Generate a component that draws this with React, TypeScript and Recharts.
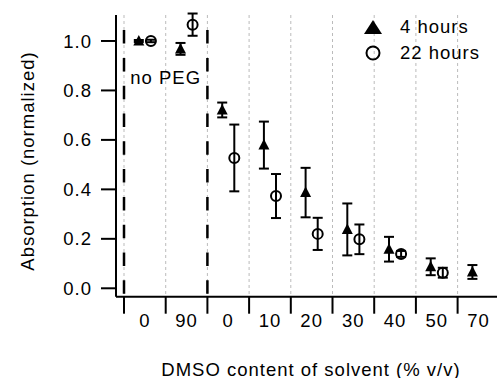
import React from "react";
import {
  ComposedChart,
  Scatter,
  ErrorBar,
  XAxis,
  YAxis,
  CartesianGrid,
  ReferenceLine,
  ReferenceArea,
  Legend,
} from "recharts";

// DMSO content per group (first two are the "no PEG" controls)
const categories = ["0", "90", "0", "10", "20", "30", "40", "50", "70"];

const hours4 = [1.0, 0.968, 0.721, 0.579, 0.387, 0.238, 0.158, 0.087, 0.066];
const hours4Err = [0.004, 0.024, 0.03, 0.095, 0.1, 0.105, 0.05, 0.034, 0.028];

const hours22 = [1.0, 1.066, 0.527, 0.373, 0.22, 0.198, 0.139, 0.063, null];
const hours22Err = [0.005, 0.045, 0.135, 0.089, 0.065, 0.06, 0.012, 0.02, null];

const yTicks = [0, 0.2, 0.4, 0.6, 0.8, 1.0];
const xTicks = [0, 1, 2, 3, 4, 5, 6, 7, 8, 9];

const W = 500;
const H = 378;
const LEFT = 116;
const RIGHT_MARGIN = 0.7;
const X_MIN = -0.192;
const X_MAX = 9;
const BAND = (W - LEFT - RIGHT_MARGIN) / (X_MAX - X_MIN);
const OFF = 0.145; // shift of each series inside its group

const FONT = "'Liberation Sans', Arial, Helvetica, sans-serif";
const FS = 18.5;
const LS = 1;

const data4 = hours4.map((v, i) => ({ x: i + 0.5 - OFF, y: v, err: hours4Err[i] }));
const data22 = hours22
  .map((v, i) => ({ x: i + 0.5 + OFF, y: v, err: hours22Err[i] }))
  .filter((d) => d.y !== null);

const Triangle = ({ cx, cy }: any) => (
  <polygon
    points={`${cx},${cy - 6} ${cx - 5.5},${cy + 4.5} ${cx + 5.5},${cy + 4.5}`}
    fill="#000"
  />
);

const Circle = ({ cx, cy }: any) => (
  <circle cx={cx} cy={cy} r={5} fill="none" stroke="#000" strokeWidth={2} />
);

const XTick = ({ x, y, payload }: any) => {
  const i = payload.value;
  if (i >= categories.length) return null;
  return (
    <text
      x={x + BAND / 2}
      y={y}
      dy="0.71em"
      textAnchor="middle"
      fill="#000"
      fontSize={FS}
      fontFamily={FONT}
      letterSpacing={LS}
    >
      {categories[i]}
    </text>
  );
};

const LegendBox = () => (
  <div style={{ fontFamily: FONT, fontSize: FS, letterSpacing: LS, color: "#000" }}>
    <div style={{ display: "flex", alignItems: "center", height: 26 }}>
      <svg width={20} height={20} style={{ marginRight: 17 }}>
        <polygon points="10,3 1,17 19,17" fill="#000" />
      </svg>
      4 hours
    </div>
    <div style={{ display: "flex", alignItems: "center", height: 26 }}>
      <svg width={20} height={20} style={{ marginRight: 17 }}>
        <circle cx={10} cy={10} r={6.5} fill="none" stroke="#000" strokeWidth={2} />
      </svg>
      22 hours
    </div>
  </div>
);

export default function App() {
  return (
    <div
      style={{
        position: "absolute",
        left: 0,
        top: 0,
        width: 497,
        height: 378,
        overflow: "hidden",
        background: "#fff",
      }}
    >
      <ComposedChart
        width={W}
        height={H}
        margin={{ top: 15, right: RIGHT_MARGIN, bottom: 0, left: 0 }}
      >
        <CartesianGrid
          horizontal={false}
          stroke="#bbb"
          strokeDasharray="3 3"
        />
        <XAxis
          type="number"
          dataKey="x"
          domain={[X_MIN, X_MAX]}
          allowDataOverflow
          ticks={xTicks}
          interval={0}
          height={81.3}
          tickSize={17}
          tickMargin={0}
          axisLine={{ stroke: "#000", strokeWidth: 2 }}
          tickLine={{ stroke: "#000", strokeWidth: 2 }}
          tick={<XTick />}
          label={{
            content: () => (
              <text
                x={311}
                y={369}
                dominantBaseline="central"
                textAnchor="middle"
                fill="#000"
                fontSize={FS}
                fontFamily={FONT}
                letterSpacing={LS}
              >
                DMSO content of solvent (% v/v)
              </text>
            ),
          }}
        />
        <YAxis
          type="number"
          dataKey="y"
          domain={[-0.034, 1.105]}
          allowDataOverflow
          ticks={yTicks}
          width={LEFT}
          tickSize={15}
          tickMargin={9}
          tickFormatter={(v: number) => v.toFixed(1)}
          axisLine={{ stroke: "#000", strokeWidth: 2 }}
          tickLine={{ stroke: "#000", strokeWidth: 2 }}
          tick={{ fill: "#000", fontSize: FS, fontFamily: FONT, letterSpacing: LS }}
          label={{
            content: () => (
              <text
                x={27}
                y={161}
                transform="rotate(-90 27 161)"
                dominantBaseline="central"
                textAnchor="middle"
                fill="#000"
                fontSize={FS}
                fontFamily={FONT}
                letterSpacing={LS}
              >
                Absorption (normalized)
              </text>
            ),
          }}
        />
        <ReferenceArea
          x1={0}
          x2={2}
          y1={0.804}
          y2={0.904}
          fill="none"
          stroke="none"
          label={{
            value: "no PEG",
            position: "center",
            fill: "#000",
            fontSize: FS,
            fontFamily: FONT,
            letterSpacing: LS,
          }}
        />
        <ReferenceLine
          segment={[{ x: 0, y: 1.044 }, { x: 0, y: -0.034 }]}
          stroke="#000"
          strokeWidth={2.5}
          strokeDasharray="13.5 14.3"
        />
        <ReferenceLine
          segment={[{ x: 2, y: 1.044 }, { x: 2, y: -0.034 }]}
          stroke="#000"
          strokeWidth={2.5}
          strokeDasharray="13.5 14.3"
        />
        <Scatter name="4 hours" data={data4} shape={<Triangle />} isAnimationActive={false}>
          <ErrorBar dataKey="err" direction="y" width={5} stroke="#000" strokeWidth={2} />
        </Scatter>
        <Scatter name="22 hours" data={data22} shape={<Circle />} isAnimationActive={false}>
          <ErrorBar dataKey="err" direction="y" width={5} stroke="#000" strokeWidth={2} />
        </Scatter>
        <Legend
          layout="vertical"
          align="center"
          verticalAlign="middle"
          content={<LegendBox />}
          wrapperStyle={{ left: 363, top: 14, width: 130, height: 52 }}
        />
      </ComposedChart>
    </div>
  );
}
